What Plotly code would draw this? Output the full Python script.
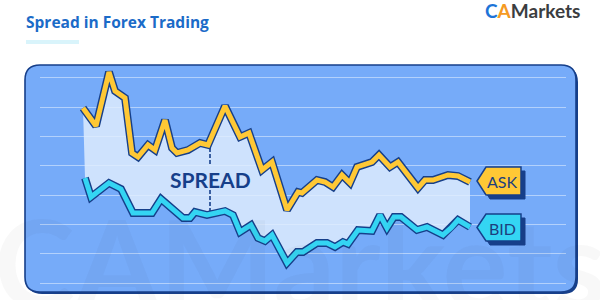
import plotly.graph_objects as go

# ---------------- data ----------------
title_text = "Spread in Forex Trading"
brand = "CAMarkets"

ask_time = [83, 96, 109, 115, 125, 132, 138, 148, 155, 165, 172, 177, 188, 200, 208,
            225, 240, 249, 262, 272, 287, 298, 302, 317, 325, 333, 342, 350, 357, 372,
            379, 390, 398, 418, 425, 433, 448, 458, 470]
ask = [192, 174, 228, 209, 202, 147, 143, 155, 150, 180, 152, 147, 150, 157, 155,
       194, 163, 167, 130, 138, 90, 108, 107, 120, 118, 113, 125, 117, 133, 138,
       145, 133, 138, 112, 120, 120, 125, 124, 118]

bid_time = [85, 91, 109, 121, 133, 152, 161, 172, 183, 190, 195, 207, 225, 233, 240,
            251, 258, 265, 272, 287, 297, 303, 317, 327, 335, 343, 348, 358, 367, 372,
            380, 387, 394, 401, 417, 427, 443, 451, 458, 470]
bid = [122, 103, 117, 111, 87, 87, 101, 92, 82, 82, 88, 85, 89, 85, 68,
       75, 62, 59, 65, 37, 48, 48, 57, 57, 53, 58, 56, 70, 70, 69,
       85, 72, 83, 83, 70, 73, 65, 72, 80, 73]

spread_time = 210
spread_label = "SPREAD"
tag_labels = ["ASK", "BID"]

# ---------------- styles ----------------
NAVY = "#163f8a"
YELLOW = "#ffc835"
CYAN = "#34d5f3"
PANEL = "#76abf9"
SPREAD_FILL = "rgba(226,238,254,0.82)"

W, H = 600, 300


def X(v):
    return v / W


def Y(v):
    return 1 - v / H


def poly(points):
    return "M " + " L ".join(f"{X(a):.5f},{Y(b):.5f}" for a, b in points) + " Z"


def rrect(x0, y0, x1, y1, r):
    P = lambda a, b: f"{X(a):.5f},{Y(b):.5f}"
    return (f"M {P(x0 + r, y0)} L {P(x1 - r, y0)} Q {P(x1, y0)} {P(x1, y0 + r)} "
            f"L {P(x1, y1 - r)} Q {P(x1, y1)} {P(x1 - r, y1)} "
            f"L {P(x0 + r, y1)} Q {P(x0, y1)} {P(x0, y1 - r)} "
            f"L {P(x0, y0 + r)} Q {P(x0, y0)} {P(x0 + r, y0)} Z")


def tag(y0, y1, dx=0, dy=0):
    xl, xn, xr = 477 + dx, 486 + dx, 521 + dx
    ym = (y0 + y1) / 2 + dy
    return poly([(xl, ym), (xn, y0 + dy), (xr, y0 + dy), (xr, y1 + dy), (xn, y1 + dy)])


fig = go.Figure()

# spread fill between bid and ask
fig.add_trace(go.Scatter(x=bid_time, y=bid, mode="lines", line=dict(width=0),
                         hoverinfo="skip", showlegend=False))
fig.add_trace(go.Scatter(x=ask_time, y=ask, mode="lines", line=dict(width=0),
                         fill="tonexty", fillcolor=SPREAD_FILL,
                         hoverinfo="skip", showlegend=False))

# spread marker (dashed), broken around the label
fig.add_trace(go.Scatter(x=[spread_time, spread_time, None, spread_time, spread_time],
                         y=[152, 134, None, 110, 88], mode="lines",
                         line=dict(color=NAVY, width=1.6, dash="4px,2px"),
                         hoverinfo="skip", showlegend=False))

for t, v, col in [(ask_time, ask, YELLOW), (bid_time, bid, CYAN)]:
    fig.add_trace(go.Scatter(x=t, y=v, mode="lines", line=dict(color=NAVY, width=7.8),
                             hoverinfo="skip", showlegend=False))
    fig.add_trace(go.Scatter(x=t, y=v, mode="lines", line=dict(color=col, width=5),
                             hoverinfo="skip", showlegend=False))

shapes = [
    dict(type="path", xref="paper", yref="paper", path=rrect(27, 67, 578, 294, 15),
         fillcolor=NAVY, line=dict(width=0), layer="below"),
    dict(type="path", xref="paper", yref="paper", path=rrect(25, 65, 576, 292, 15),
         fillcolor=PANEL, line=dict(color=NAVY, width=1.6), layer="below"),
    dict(type="rect", xref="paper", yref="paper", x0=X(26), x1=X(79), y0=Y(44), y1=Y(40),
         fillcolor="#d9f4fb", line=dict(width=0), layer="below"),
]
for (y0, y1), col in [((167, 195), YELLOW), ((214, 241), CYAN)]:
    shapes.append(dict(type="path", xref="paper", yref="paper", path=tag(y0, y1, 4, 4),
                       fillcolor=NAVY, line=dict(color=NAVY, width=1), layer="above"))
    shapes.append(dict(type="path", xref="paper", yref="paper", path=tag(y0, y1),
                       fillcolor=col, line=dict(color=NAVY, width=1.5), layer="above"))

annotations = [
    dict(text="<b>" + brand + "</b>", xref="paper", yref="paper", x=X(300), y=Y(262),
         xanchor="center", yanchor="middle", showarrow=False,
         font=dict(family="Lato", size=122, color="rgba(60,60,60,0.035)")),
    dict(text="<b>" + title_text + "</b>", xref="paper", yref="paper", x=X(24), y=Y(22),
         xanchor="left", yanchor="middle", showarrow=False,
         font=dict(family="Open Sans", size=15.5, color="#1b6bc8")),
    dict(text="<b><span style='color:#1d74d8'>C</span><span style='color:#f59a23'>A</span>"
              "<span style='color:#3b3d40'>Markets</span></b>",
         xref="paper", yref="paper", x=X(582), y=Y(11), xanchor="right", yanchor="middle",
         showarrow=False, font=dict(family="Lato", size=19)),
    dict(text="<b>" + spread_label + "</b>", x=spread_time, y=121, xref="x", yref="y",
         showarrow=False, xanchor="center", yanchor="middle",
         font=dict(family="Lato", size=21, color=NAVY)),
]
for lab, yc in zip(tag_labels, [181, 228]):
    annotations.append(dict(text=lab, xref="paper", yref="paper", x=X(502), y=Y(yc),
                            xanchor="center", yanchor="middle", showarrow=False,
                            font=dict(family="Lato", size=16, color="#1d3f7e")))

fig.update_layout(
    width=W, height=H, autosize=False,
    margin=dict(l=0, r=0, t=0, b=0, pad=0),
    paper_bgcolor="white", plot_bgcolor="rgba(0,0,0,0)",
    showlegend=False,
    xaxis=dict(domain=[X(40), X(566)], range=[40, 566], visible=False, fixedrange=True),
    yaxis=dict(domain=[Y(292), Y(65)], range=[8, 235], showgrid=True,
               gridcolor="rgba(255,255,255,0.45)", gridwidth=1,
               tick0=17, dtick=29.3, showticklabels=False, ticks="",
               zeroline=False, showline=False, fixedrange=True),
    shapes=shapes, annotations=annotations,
)

fig.write_html("out.html", config={"displayModeBar": False})
